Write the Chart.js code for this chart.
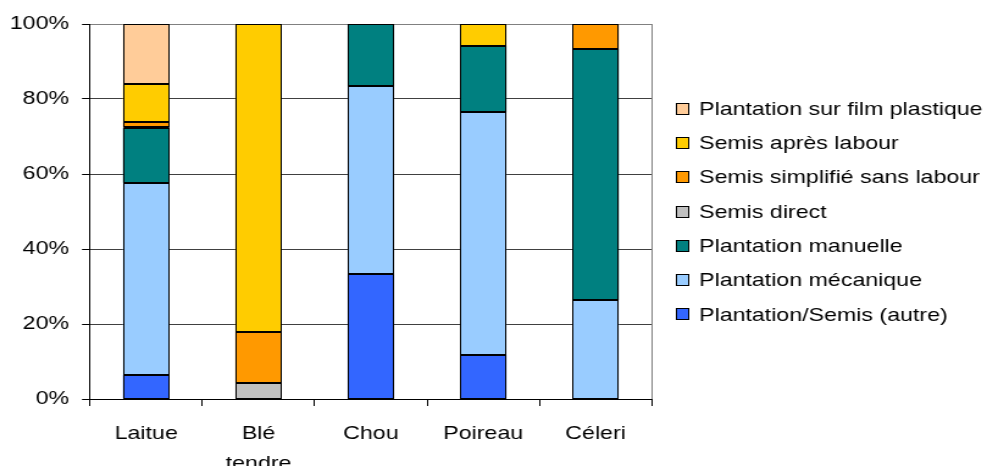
<!DOCTYPE html>
<html>
<head>
<meta charset="utf-8">
<title>Modes d'implantation par culture</title>
<script src="https://cdn.jsdelivr.net/npm/chart.js@4"></script>
<style>
    html, body { margin: 0; padding: 0; background: #fff; overflow: hidden; }
    /* the original picture is stretched horizontally, so is this one */
    #wrap { width: 809px; height: 466px; transform: scaleX(1.22); transform-origin: 0 0; }
</style>
</head>
<body>
<div id="wrap"><canvas id="implantChart" width="809" height="466"></canvas></div>
<script>
const cultures = ['Laitue', ['Blé', 'tendre'], 'Chou', 'Poireau', 'Céleri'];

// part de chaque mode d'implantation (%), de bas en haut de la pile
const plantAutre     = [6.4, 0, 33.3, 11.8, 0];
const plantMecanique = [51.3, 0, 50.2, 64.7, 26.4];
const plantManuelle  = [14.6, 0, 16.5, 17.7, 67.0];
const semisDirect    = [0.3, 4.4, 0, 0, 0];
const semisSimplifie = [1.2, 13.5, 0, 0, 6.6];
const semisLabour    = [10.1, 82.1, 0, 5.8, 0];
const plantFilm      = [16.1, 0, 0, 0, 0];

const yTicks = [0, 20, 40, 60, 80, 100];

const FONT = "'Liberation Sans', Arial, sans-serif";
Chart.defaults.font.family = FONT;
Chart.defaults.font.size = 19;
Chart.defaults.color = '#000';

/**
 * Contours noirs nets des segments + bord droit gris de la zone de tracé
 */
const plotBorder = {
    id: 'plotBorder',
    afterDatasetsDraw(chart){
        const {ctx, chartArea} = chart;
        ctx.save();
        ctx.strokeStyle = '#000';
        ctx.lineWidth = 1;
        chart.data.datasets.forEach((ds, i) => {
            chart.getDatasetMeta(i).data.forEach(bar => {
                const p = bar.getProps(['x', 'y', 'base', 'width'], true);
                if (Math.abs(p.base - p.y) < 0.1) return;
                const l = Math.round(p.x - p.width / 2) + 0.5;
                const r = Math.round(p.x + p.width / 2) - 0.5;
                const t = Math.round(Math.min(p.y, p.base)) + 0.5;
                const b = Math.round(Math.max(p.y, p.base)) - 0.5;
                ctx.strokeRect(l, t, r - l, b - t);
            });
        });
        const x = Math.round(chartArea.right) + 0.5;
        ctx.strokeStyle = '#808080';
        ctx.beginPath();
        ctx.moveTo(x, chartArea.top);
        ctx.lineTo(x, chartArea.bottom);
        ctx.stroke();
        ctx.restore();
    }
};

/**
 * Légende à droite, dans l'ordre inverse des séries (comme la pile)
 */
const sideLegend = {
    id: 'sideLegend',
    afterDraw(chart){
        const {ctx, chartArea} = chart;
        const sets = chart.data.datasets.slice().reverse();
        const rowH = 34.3;
        const x = Math.round(chartArea.right + 20);
        let y = (chartArea.top + chartArea.bottom) / 2 - rowH * (sets.length - 1) / 2;
        ctx.save();
        ctx.font = '19px ' + FONT;
        ctx.textBaseline = 'middle';
        ctx.textAlign = 'left';
        sets.forEach(ds => {
            const by = Math.round(y - 6);
            ctx.fillStyle = ds.backgroundColor;
            ctx.fillRect(x, by, 11, 12);
            ctx.strokeStyle = '#000';
            ctx.lineWidth = 1;
            ctx.strokeRect(x + 0.5, by + 0.5, 10, 11);
            ctx.fillStyle = '#000';
            ctx.fillText(ds.label, x + 19, y + 1);
            y += rowH;
        });
        ctx.restore();
    }
};

function serie(label, data, color){
    return {
        label: label,
        data: data,
        backgroundColor: color,
        borderWidth: 0,
        inflateAmount: 0
    };
}

const ct = document.getElementById('implantChart').getContext('2d');
const implantChart = new Chart(ct, {
    type: 'bar',
    data: {
        labels: cultures,
        datasets: [
            serie('Plantation/Semis (autre)', plantAutre, '#3366FF'),
            serie('Plantation mécanique', plantMecanique, '#99CCFF'),
            serie('Plantation manuelle', plantManuelle, '#008080'),
            serie('Semis direct', semisDirect, '#C0C0C0'),
            serie('Semis simplifié sans labour', semisSimplifie, '#FF9900'),
            serie('Semis après labour', semisLabour, '#FFCC00'),
            serie('Plantation sur film plastique', plantFilm, '#FFCC99')
        ]
    },
    options: {
        responsive: false,
        animation: false,
        categoryPercentage: 1,
        barPercentage: 0.414,
        layout: {
            padding: { top: 24, right: 274.8, bottom: 0, left: 0 }
        },
        plugins: {
            tooltip: { enabled: false },
            legend: { display: false }
        },
        scales: {
            x: {
                stacked: true,
                afterFit: (scale) => { scale.height = 67; },
                grid: {
                    offset: true,
                    drawOnChartArea: false,
                    tickLength: 7,
                    tickColor: '#000'
                },
                border: { color: '#000', width: 1 },
                ticks: {
                    padding: 13.3,
                    color: '#000',
                    font: { size: 19, lineHeight: 1.55 }
                }
            },
            y: {
                stacked: true,
                min: 0,
                max: 100,
                afterFit: (scale) => { scale.width = 73.8; },
                afterBuildTicks: (scale) => {
                    scale.ticks = yTicks.map(v => ({ value: v }));
                },
                grid: {
                    color: (c) => c.tick && c.tick.value === 100 ? '#808080' : '#404040',
                    tickLength: 6.6,
                    tickColor: '#000'
                },
                border: { color: '#000', width: 1 },
                ticks: {
                    padding: 10.6,
                    color: '#000',
                    font: { size: 19 },
                    callback: (value) => value + '%'
                }
            }
        }
    },
    plugins: [plotBorder, sideLegend]
});
</script>
</body>
</html>
